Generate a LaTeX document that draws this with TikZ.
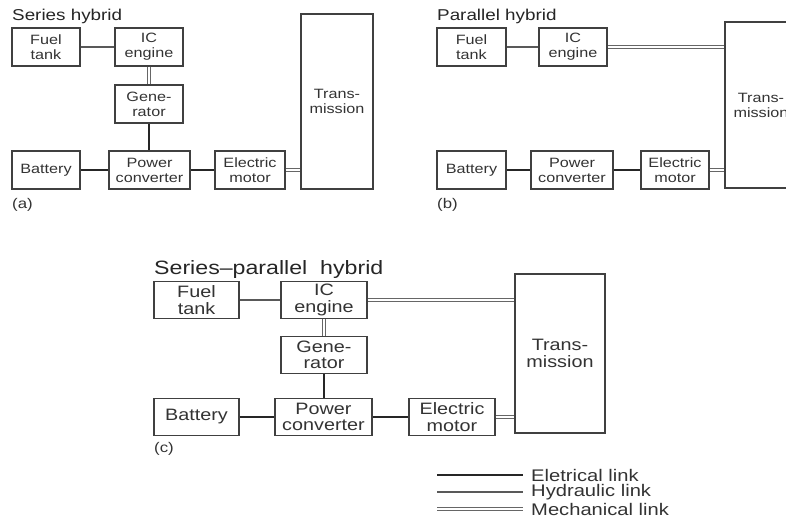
\documentclass[tikz,border=0pt]{standalone}
\usepackage{fontspec}
\setmainfont{Liberation Sans}[FakeStretch=1.2]
\begin{document}
\begin{tikzpicture}[x=1pt,y=-1pt,
  box/.style={draw=black!75, line width=1.3pt, inner sep=0pt, align=center, text=black!80},
  boxa/.style={box, font=\fontsize{13.5}{15}\selectfont},
  boxc/.style={box, font=\fontsize{16.5}{16.5}\selectfont},
  elec/.style={draw=black!85, line width=2pt},
  hyd/.style={draw=black!65, line width=1.3pt},
  mech/.style={draw=black!60, line width=1pt, double=white, double distance=2.6pt},
  title/.style={anchor=west, inner sep=0pt, text=black!85, font=\fontsize{15.7}{16}\selectfont},
  lab/.style={anchor=west, inner sep=0pt, text=black!80, font=\fontsize{14}{14}\selectfont},
  legtxt/.style={anchor=west, inner sep=0pt, text=black!80, font=\fontsize{16.8}{17}\selectfont}
]
\useasboundingbox (0,0) rectangle (786,517);
\clip (0,0) rectangle (786,517);
\fill[white] (0,0) rectangle (786,517);

% ---------- (a) Series hybrid ----------
\node[title] (ta) at (12,16) {Series hybrid};
\node[boxa, minimum width=68pt, minimum height=38pt] (aft) at (46,47) {Fuel\\tank};
\node[boxa, minimum width=68pt, minimum height=38pt] (aic) at (149,47) {IC\\engine};
\node[boxa, minimum width=68pt, minimum height=38pt] (agen) at (149,104) {Gene-\\rator};
\node[boxa, minimum width=68pt, minimum height=38pt] (abat) at (46,170) {Battery};
\node[boxa, minimum width=81pt, minimum height=38pt] (apc) at (149.5,170) {Power\\converter};
\node[boxa, minimum width=70pt, minimum height=38pt] (aem) at (250,170) {Electric\\motor};
\node[boxa, minimum width=72pt, minimum height=175pt] (atr) at (337,101.5) {Trans-\\mission};
\node[lab] (la) at (12,205) {(a)};
\draw[hyd] (aft.east) -- (aic.west);
\draw[mech] (aic.south) -- (agen.north);
\draw[elec] (agen.south) -- (agen.south |- apc.north);
\draw[elec] (abat.east) -- (apc.west);
\draw[elec] (apc.east) -- (aem.west);
\draw[mech] (aem.east) -- (aem.east -| atr.west);

% ---------- (b) Parallel hybrid ----------
\node[title] (tb) at (437,16) {Parallel hybrid};
\node[boxa, minimum width=69pt, minimum height=38pt] (bft) at (471.5,47) {Fuel\\tank};
\node[boxa, minimum width=68pt, minimum height=38pt] (bic) at (573,47) {IC\\engine};
\node[boxa, minimum width=69pt, minimum height=38pt] (bbat) at (471.5,170) {Battery};
\node[boxa, minimum width=82pt, minimum height=38pt] (bpc) at (572,170) {Power\\converter};
\node[boxa, minimum width=68pt, minimum height=38pt] (bem) at (675,170) {Electric\\motor};
\node[boxa, minimum width=72pt, minimum height=166pt] (btr) at (761,105) {Trans-\\mission};
\node[lab] (lb) at (437,205) {(b)};
\draw[hyd] (bft.east) -- (bic.west);
\draw[mech] (bic.east) -- (bic.east -| btr.west);
\draw[elec] (bbat.east) -- (bpc.west);
\draw[elec] (bpc.east) -- (bem.west);
\draw[mech] (bem.east) -- (bem.east -| btr.west);

% ---------- (c) Series-parallel hybrid ----------
\node[title, font=\fontsize{19.3}{20}\selectfont] (tc) at (154,270) {Series--parallel\ \ hybrid};
\node[boxc, minimum width=85pt, minimum height=37pt] (cft) at (196.5,300) {Fuel\\tank};
\node[boxc, minimum width=86pt, minimum height=37pt] (cic) at (324,300) {IC\\engine};
\node[boxc, minimum width=86pt, minimum height=37pt] (cgen) at (324,355) {Gene-\\rator};
\node[boxc, minimum width=85pt, minimum height=37pt] (cbat) at (196.5,417) {Battery};
\node[boxc, minimum width=97pt, minimum height=37pt] (cpc) at (323.5,417) {Power\\converter};
\node[boxc, minimum width=86pt, minimum height=37pt] (cem) at (452,417) {Electric\\motor};
\node[boxc, minimum width=90pt, minimum height=159pt] (ctr) at (560,353.5) {Trans-\\mission};
\node[lab] (lc) at (154,449) {(c)};
\draw[hyd] (cft.east) -- (cic.west);
\draw[mech] (cic.east) -- (cic.east -| ctr.west);
\draw[mech] (cic.south) -- (cic.south |- cgen.north);
\draw[elec] (cgen.south) -- (cgen.south |- cpc.north);
\draw[elec] (cbat.east) -- (cpc.west);
\draw[elec] (cpc.east) -- (cem.west);
\draw[mech] (cem.east) -- (cem.east -| ctr.west);

% ---------- legend ----------
\coordinate (l1a) at (437,475); \coordinate (l1b) at (523,475);
\coordinate (l2a) at (437,492); \coordinate (l2b) at (523,492);
\coordinate (l3a) at (437,509); \coordinate (l3b) at (523,509);
\draw[elec] (l1a) -- (l1b);
\draw[hyd] (l2a) -- (l2b);
\draw[mech] (l3a) -- (l3b);
\node[legtxt] (t1) at (531,475) {Eletrical link};
\node[legtxt] (t2) at (531,492) {Hydraulic link};
\node[legtxt] (t3) at (531,509) {Mechanical link};
\end{tikzpicture}
\end{document}
